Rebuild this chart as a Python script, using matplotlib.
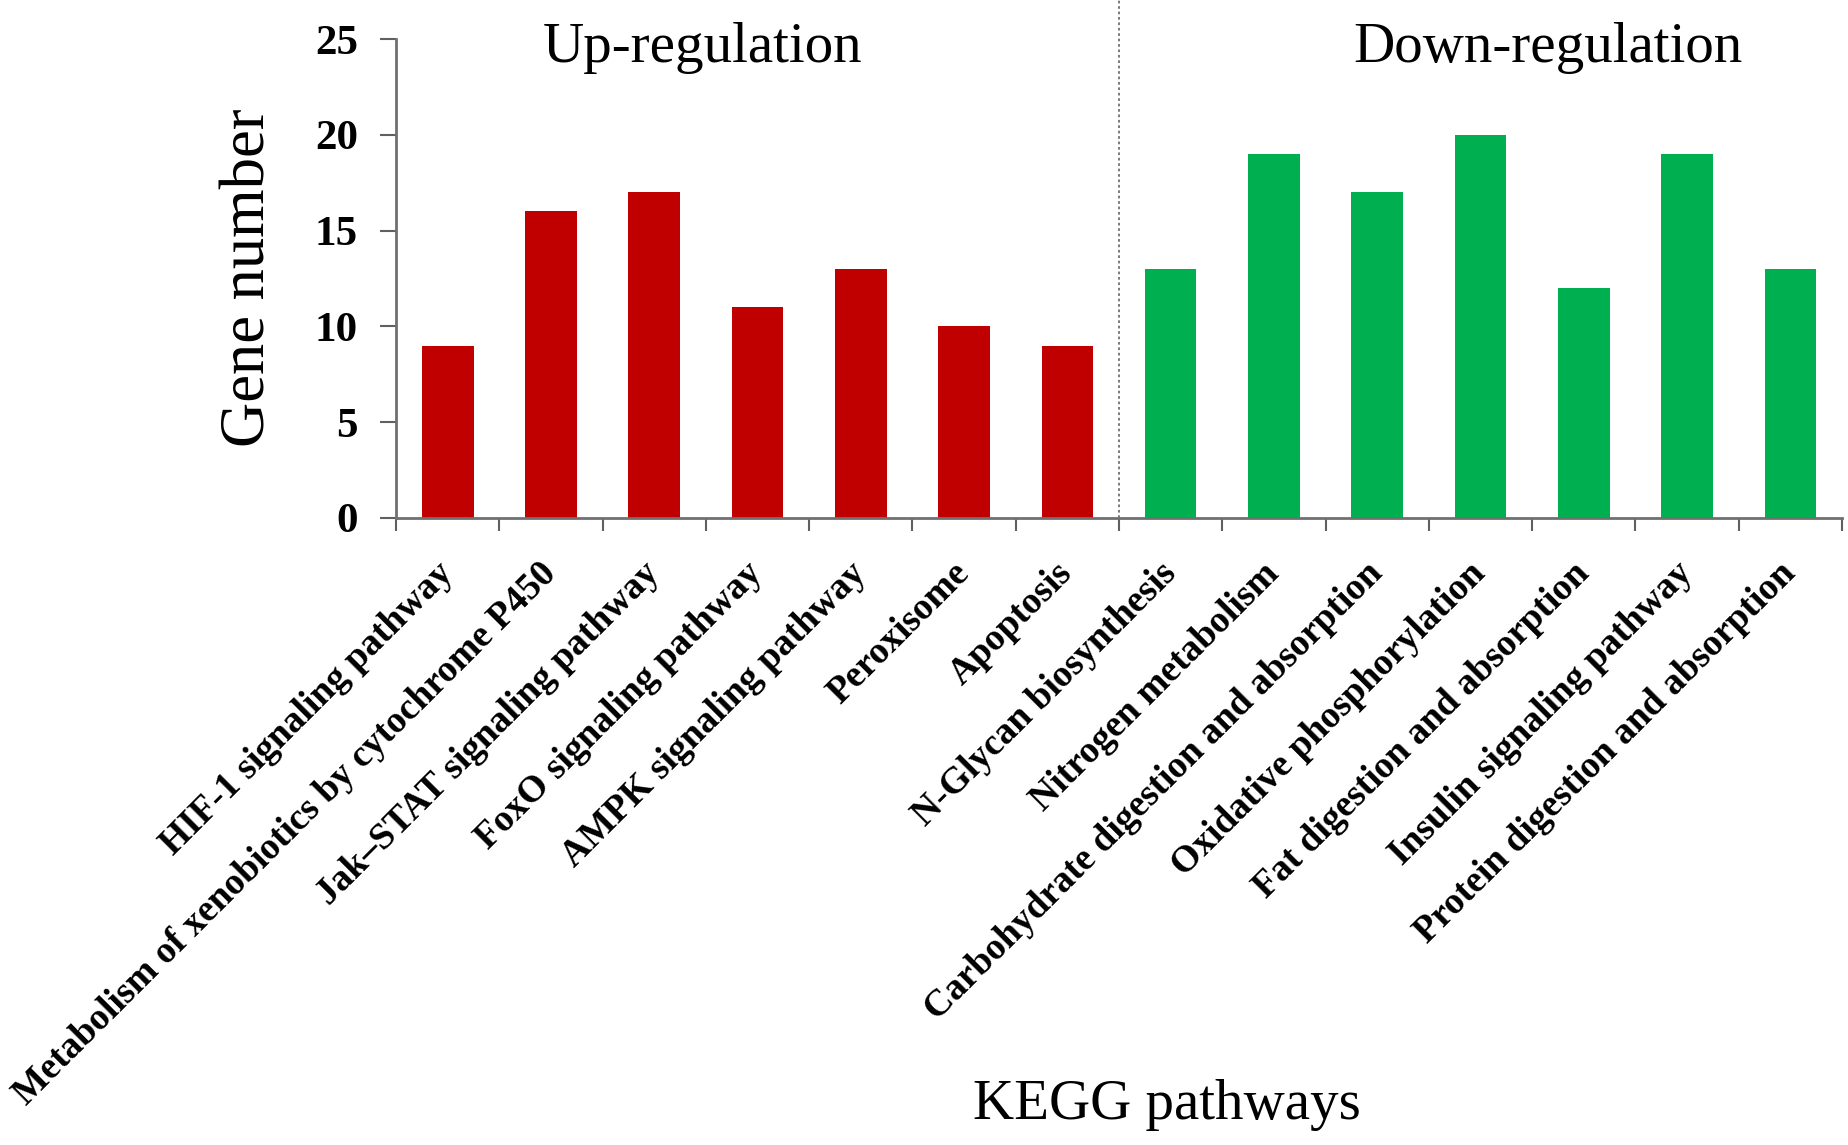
import numpy as np
import matplotlib
matplotlib.use("Agg")
import matplotlib.pyplot as plt

# KEGG pathways, up-regulated then down-regulated
up_pathways = [
    "HIF-1 signaling pathway",
    "Metabolism of xenobiotics by cytochrome P450",
    "Jak\u2013STAT signaling pathway",
    "FoxO signaling pathway",
    "AMPK signaling pathway",
    "Peroxisome",
    "Apoptosis",
]
up_counts = [9, 16, 17, 11, 13, 10, 9]

down_pathways = [
    "N-Glycan biosynthesis",
    "Nitrogen metabolism",
    "Carbohydrate digestion and absorption",
    "Oxidative phosphorylation",
    "Fat digestion and absorption",
    "Insulin signaling pathway",
    "Protein digestion and absorption",
]
down_counts = [13, 19, 17, 20, 12, 19, 13]

y_ticks = [0, 5, 10, 15, 20, 25]

plt.rcParams["font.family"] = ["Liberation Serif", "DejaVu Serif"]

fig = plt.figure(figsize=(18.49, 11.45), dpi=100)
ax = fig.add_axes([0.2142, 0.5476, 0.782, 0.4183])

labels = up_pathways + down_pathways
x_up = np.arange(len(up_counts))
x_down = np.arange(len(down_counts)) + len(up_counts)

ax.bar(x_up, up_counts, width=0.5, color="#C00000", zorder=2)
ax.bar(x_down, down_counts, width=0.5, color="#00B050", zorder=2)

# divider between the two groups, running up to the top of the figure
ax.axvline(len(up_counts) - 0.5, ymin=0, ymax=1.1, color="#707070",
           linestyle=(0, (1.5, 1.5)), linewidth=1.3, clip_on=False, zorder=1)

ax.set_xlim(-0.5, len(labels) - 0.5)
ax.set_ylim(0, 25)
ax.set_yticks(y_ticks)
ax.set_yticklabels([str(v) for v in y_ticks], fontsize=31, fontweight="bold")

ax.set_xticks(np.arange(len(labels)))
ax.set_xticklabels(labels, fontsize=27, fontweight="bold", rotation=45,
                   ha="right", va="center", rotation_mode="anchor")
ax.set_xticks(np.arange(len(labels) + 1) - 0.5, minor=True)
ax.tick_params(axis="x", which="major", length=0, pad=36)
ax.tick_params(axis="x", which="minor", length=9, width=1.5, color="#606060")
ax.tick_params(axis="y", length=11.5, width=1.5, color="#606060", pad=16)

for side in ["top", "right"]:
    ax.spines[side].set_visible(False)
for side in ["left", "bottom"]:
    ax.spines[side].set_color("#707070")
    ax.spines[side].set_linewidth(2)

fig.text(0.135, 0.757, "Gene number", rotation=90, fontsize=45,
         ha="center", va="center")
fig.text(0.380, 0.958, "Up-regulation", fontsize=41, ha="center", va="center")
fig.text(0.837, 0.958, "Down-regulation", fontsize=41, ha="center", va="center")
fig.text(0.631, 0.035, "KEGG pathways", fontsize=41, ha="center", va="center")

fig.savefig("out.png", dpi=100)
